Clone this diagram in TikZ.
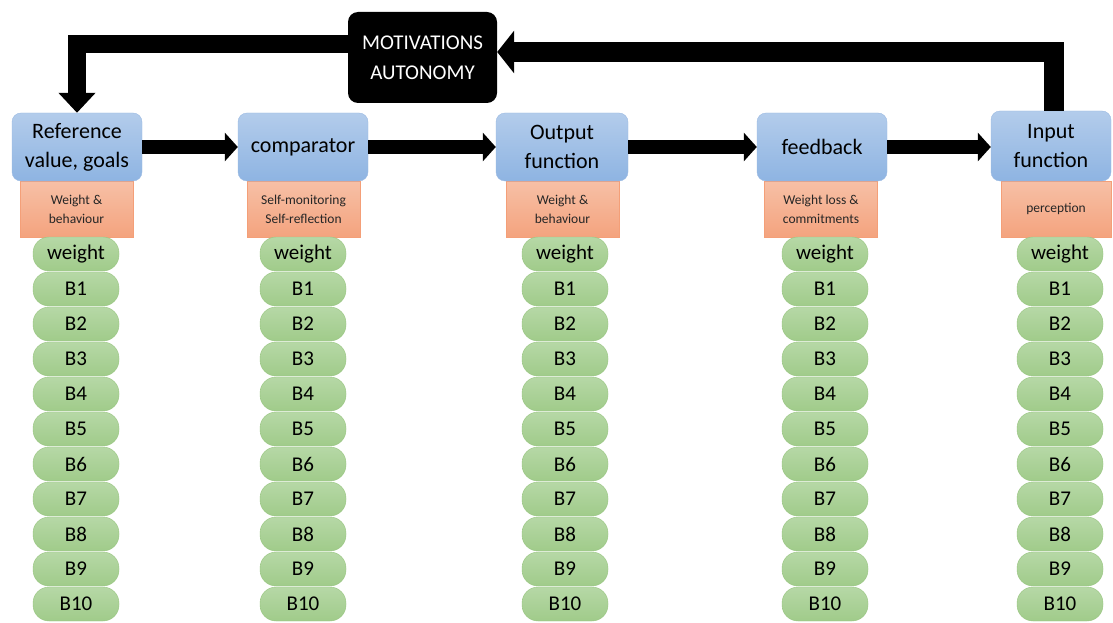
\documentclass[tikz,border=0pt]{standalone}
\usepackage{fontspec}
\setmainfont{Carlito}
\usetikzlibrary{arrows.meta}

\definecolor{stagetop}{HTML}{B3CCEB}
\definecolor{stagebot}{HTML}{8EB4E2}
\definecolor{stageline}{HTML}{9BBAE2}
\definecolor{tagtop}{HTML}{F7C0A6}
\definecolor{tagbot}{HTML}{F4A37E}
\definecolor{tagline}{HTML}{F49F78}
\definecolor{pilltop}{HTML}{B6D8A6}
\definecolor{pillbot}{HTML}{A0CB8A}
\definecolor{pillline}{HTML}{98C580}

\begin{document}
\begin{tikzpicture}[x=1pt, y=-1pt, line join=miter,
    stage/.style={rectangle, rounded corners=9pt, draw=stageline, top color=stagetop,
        bottom color=stagebot, minimum width=130pt, minimum height=68pt, inner sep=0pt,
        align=center, font=\fontsize{22}{29}\selectfont},
    tag/.style={rectangle, draw=tagline, top color=tagtop, bottom color=tagbot,
        minimum width=113pt, minimum height=56pt, inner sep=0pt, align=center,
        font=\fontsize{13.5}{19}\selectfont, text=black!85},
    pill/.style={rectangle, rounded corners=16pt, draw=pillline, top color=pilltop,
        bottom color=pillbot, minimum width=86pt, minimum height=34pt, inner sep=0pt,
        font=\fontsize{21}{24}\selectfont},
    flow/.style={line width=14pt, -{Triangle[length=13pt,width=28pt]}},
    loop/.style={line width=20pt, -{Triangle[length=17pt,width=42pt]}}]

    \useasboundingbox (0,0) rectangle (1113,623);

    % sub-labels under each stage
    \node[tag] (ref-t)  at (76.5,209) {Weight \&\\behaviour};
    \node[tag] (comp-t) at (303.5,209) {Self-monitoring\\Self-reflection};
    \node[tag] (outf-t) at (562.5,209) {Weight \&\\behaviour};
    \node[tag] (fb-t)   at (821,209) {Weight loss \&\\commitments};
    \node[tag, minimum width=110pt] (inf-t) at (1056,209) {perception};

    \node[stage] (ref)  at (77,147) {Reference\\value, goals};
    \node[stage] (comp) at (303,147) {comparator};
    \node[stage, minimum width=132pt] (outf) at (562,147) {Output\\function};
    \node[stage] (fb)   at (822,147) {feedback};
    \node[stage, minimum width=120pt, minimum height=70pt] (inf) at (1051,146) {Input\\function};

    \node[rectangle, rounded corners=10pt, fill=black, text=white, minimum width=149pt,
        minimum height=91pt, align=center, font=\fontsize{21}{30}\selectfont]
        (mot) at (422.5,57.5) {MOTIVATIONS\\AUTONOMY};

    \foreach \name/\xx in {ref/76, comp/303, outf/565, fb/825, inf/1060} {
        \node[pill] (\name-w) at (\xx,254) {weight};
        \foreach \i in {1,...,10}
            \node[pill] (\name-\i) at (\xx,{254+35*\i}) {B\i};
    }

    \draw[flow] (ref) -- (comp);
    \draw[flow] (comp) -- (outf);
    \draw[flow] (outf) -- (fb);
    \draw[flow] (fb.east) -- (fb.east -| inf.west);

    \draw[loop] ([xshift=3pt]inf.north) |- ([yshift=5.5pt]mot.east);
    \draw[loop, line width=18pt, -{Triangle[length=20pt,width=36pt]}]
        ([yshift=13pt]mot.west) -| (ref.north);
\end{tikzpicture}
\end{document}
